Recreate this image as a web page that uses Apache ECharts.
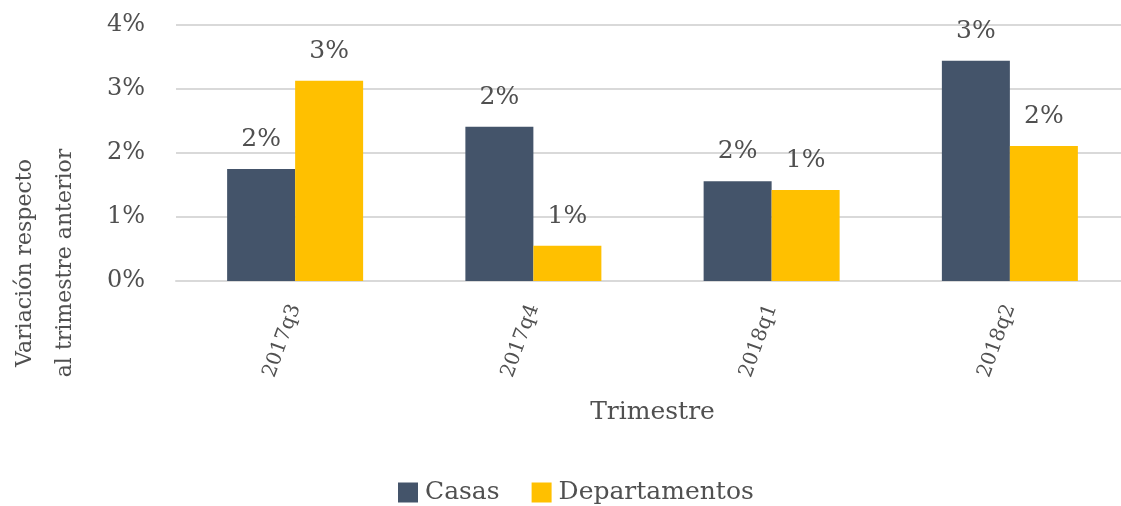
<!DOCTYPE html>
<html>
<head>
<meta charset="utf-8">
<script src="https://cdn.jsdelivr.net/npm/echarts@6/dist/echarts.min.js"></script>
<style>
  html, body { margin: 0; padding: 0; background: #fff; }
  #chart { width: 1121px; height: 506px; }
</style>
</head>
<body>
<div id="chart"></div>
<script>
const trimestres = ['2017q3', '2017q4', '2018q1', '2018q2']
const casas = [1.75, 2.41, 1.56, 3.44]
const departamentos = [3.13, 0.55, 1.42, 2.11]
const yTicks = [0, 1, 2, 3, 4]

const FONT = 'DejaVu Serif'
const TEXT = '#505050'

const chart = echarts.init(document.getElementById('chart'))

const label = {
  show: true,
  position: 'top',
  distance: 17,
  fontFamily: FONT,
  fontSize: 25,
  color: TEXT,
  formatter: p => Math.round(p.value) + '%'
}

chart.setOption({
  animation: false,
  // plot runs a little past the right edge, as in the original
  grid: { left: 176, width: 953, top: 25, bottom: 225, outerBoundsMode: 'none' },
  legend: {
    top: 475,
    left: 393,
    itemWidth: 20,
    itemHeight: 20,
    itemGap: 32,
    icon: 'rect',
    textStyle: { fontFamily: FONT, fontSize: 25, color: TEXT, padding: [0, 0, 0, 2] }
  },
  graphic: [{
    type: 'text',
    x: 45,
    y: 263,
    rotation: Math.PI / 2,
    style: {
      text: 'Variación respecto\nal trimestre anterior',
      fontFamily: FONT,
      fontSize: 22,
      lineHeight: 40,
      fill: TEXT,
      align: 'center',
      verticalAlign: 'middle'
    }
  }],
  xAxis: {
    type: 'category',
    data: trimestres,
    name: 'Trimestre',
    nameLocation: 'middle',
    nameGap: 119,
    nameTextStyle: { fontFamily: FONT, fontSize: 25, color: TEXT },
    axisLine: { lineStyle: { color: '#d9d9d9', width: 2 } },
    axisTick: { show: false },
    axisLabel: { rotate: 70, margin: 24, fontFamily: FONT, fontSize: 20, color: TEXT }
  },
  yAxis: {
    type: 'value',
    min: yTicks[0],
    max: yTicks[yTicks.length - 1],
    interval: 1,
    axisLine: { show: false },
    axisTick: { show: false },
    splitLine: { lineStyle: { color: '#d9d9d9', width: 2 } },
    axisLabel: { margin: 31, fontFamily: FONT, fontSize: 24, color: TEXT, formatter: v => v + '%' }
  },
  series: [
    { name: 'Casas', type: 'bar', data: casas, barWidth: 68, barGap: '0%', itemStyle: { color: '#44546a' }, label },
    { name: 'Departamentos', type: 'bar', data: departamentos, barWidth: 68, itemStyle: { color: '#ffc000' }, label }
  ]
})
</script>
</body>
</html>
